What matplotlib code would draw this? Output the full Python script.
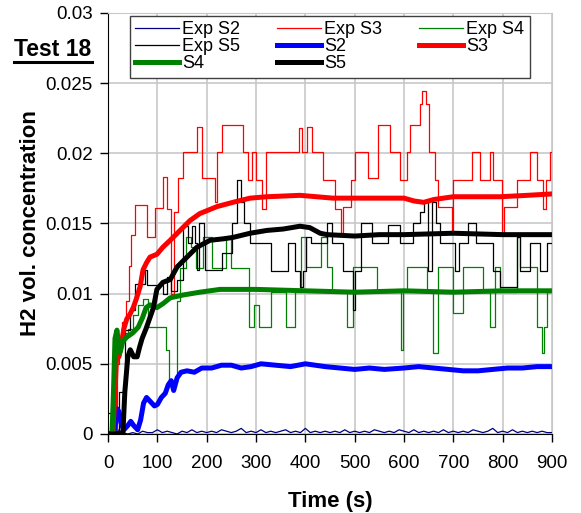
import matplotlib.pyplot as plt
import numpy as np
from matplotlib.lines import Line2D

plt.rcParams['font.family'] = ['Liberation Sans', 'DejaVu Sans']

#%% Experimental data (sensor readings, step-like)
exp_s2_t = np.arange(0, 901, 10)
exp_s2_v = [0.0000, 0.0001, 0.0003, 0.0001, 0.0000, 0.0001, 0.0000, 0.0002, 0.0001, 0.0001,
            0.0003, 0.0001, 0.0002, 0.0001, 0.0000, 0.0002, 0.0001, 0.0003, 0.0001, 0.0002,
            0.0001, 0.0002, 0.0001, 0.0003, 0.0002, 0.0001, 0.0002, 0.0004, 0.0001, 0.0002,
            0.0001, 0.0003, 0.0001, 0.0002, 0.0001, 0.0002, 0.0003, 0.0001, 0.0002, 0.0001,
            0.0004, 0.0001, 0.0002, 0.0001, 0.0002, 0.0001, 0.0002, 0.0001, 0.0003, 0.0001,
            0.0002, 0.0001, 0.0002, 0.0001, 0.0003, 0.0002, 0.0001, 0.0002, 0.0001, 0.0003,
            0.0002, 0.0001, 0.0003, 0.0001, 0.0002, 0.0001, 0.0002, 0.0001, 0.0003, 0.0001,
            0.0002, 0.0001, 0.0002, 0.0001, 0.0003, 0.0002, 0.0001, 0.0002, 0.0004, 0.0001,
            0.0002, 0.0001, 0.0003, 0.0001, 0.0002, 0.0001, 0.0002, 0.0001, 0.0002, 0.0001,
            0.0001]

exp_s3_t = [0, 16, 18, 28, 36, 42, 46, 54, 78, 95, 111, 120, 128, 134, 142, 152, 180, 191, 216, 220,
            232, 274, 284, 292, 300, 312, 320, 388, 394, 403, 414, 436, 460, 472, 476, 492, 500, 527,
            547, 572, 592, 606, 612, 632, 636, 645, 650, 662, 668, 697, 700, 738, 754, 774, 780, 798,
            802, 830, 855, 870, 882, 888, 896, 900]
exp_s3_v = [0.0002, 0.0002, 0.006, 0.008, 0.0095, 0.012, 0.0142, 0.0163, 0.014, 0.0161, 0.0183, 0.016,
            0.0100, 0.0158, 0.0182, 0.0201, 0.0219, 0.0182, 0.0165, 0.0201, 0.0220, 0.0201, 0.0181,
            0.0201, 0.0181, 0.016, 0.0201, 0.0218, 0.0201, 0.0219, 0.0201, 0.0181, 0.016, 0.0143,
            0.0162, 0.0181, 0.0201, 0.0182, 0.022, 0.0201, 0.0181, 0.0201, 0.022, 0.0235, 0.0244,
            0.0235, 0.0201, 0.0181, 0.0162, 0.0143, 0.0181, 0.0201, 0.0181, 0.0201, 0.0181, 0.0143,
            0.0162, 0.0181, 0.0201, 0.0181, 0.016, 0.0181, 0.0201, 0.0201]

exp_s4_t = [0, 14, 16, 22, 30, 40, 50, 60, 70, 80, 110, 118, 124, 140, 146, 158, 168, 178, 192, 210,
            240, 250, 286, 296, 306, 330, 360, 380, 392, 402, 432, 444, 454, 484, 497, 545, 594, 598,
            606, 647, 659, 669, 699, 720, 760, 774, 784, 795, 829, 835, 870, 880, 884, 890, 900]
exp_s4_v = [0.0001, 0.0001, 0.005, 0.0068, 0.0072, 0.0075, 0.0085, 0.0092, 0.0096, 0.0076, 0.0076,
            0.006, 0.0038, 0.0095, 0.0118, 0.014, 0.0133, 0.0118, 0.014, 0.0118, 0.014, 0.0118,
            0.0076, 0.0092, 0.0076, 0.0101, 0.0076, 0.0101, 0.0140, 0.0119, 0.0140, 0.0119, 0.0101,
            0.0076, 0.0119, 0.0101, 0.006, 0.0101, 0.0119, 0.0101, 0.0058, 0.0119, 0.0086, 0.0119,
            0.0101, 0.0076, 0.0119, 0.0101, 0.014, 0.0119, 0.0076, 0.0058, 0.0076, 0.0101, 0.0101]

exp_s5_t = [0, 8, 10, 22, 34, 44, 55, 74, 78, 105, 112, 120, 128, 140, 152, 162, 170, 176, 180, 184,
            194, 197, 232, 252, 262, 270, 276, 288, 330, 364, 380, 389, 395, 402, 412, 444, 454, 476,
            496, 500, 512, 536, 568, 592, 618, 632, 640, 648, 656, 664, 674, 704, 712, 730, 746, 780,
            795, 830, 836, 855, 876, 890, 900]
exp_s5_v = [0.0015, 0.0015, 0.0002, 0.003, 0.0074, 0.0088, 0.0107, 0.0117, 0.0106, 0.0106, 0.0100,
            0.0112, 0.0102, 0.011, 0.0148, 0.0136, 0.0148, 0.0136, 0.0117, 0.015, 0.0136, 0.0117,
            0.0129, 0.015, 0.0181, 0.0165, 0.015, 0.0136, 0.0116, 0.0136, 0.0116, 0.0105, 0.0116,
            0.0140, 0.0136, 0.015, 0.0136, 0.0116, 0.0088, 0.0116, 0.015, 0.0136, 0.0149, 0.0136,
            0.015, 0.0158, 0.0165, 0.0116, 0.0165, 0.015, 0.0136, 0.0116, 0.0136, 0.015, 0.0136,
            0.0116, 0.0105, 0.014, 0.0116, 0.0136, 0.0116, 0.0136, 0.0136]

#%% Simulation results
s2_t = [0, 10, 14, 18, 22, 26, 32, 40, 46, 52, 60, 66, 72, 78, 86, 94, 100, 108, 116, 122, 128, 133,
        140, 148, 160, 175, 190, 210, 230, 250, 270, 290, 310, 340, 370, 400, 420, 440, 470, 500,
        530, 560, 600, 630, 660, 690, 720, 750, 780, 810, 840, 870, 900]
s2_v = [0, 0, 0.0005, 0.0018, 0.0016, 0.0008, 0.0003, 0.0006, 0.0009, 0.0006, 0.0003, 0.001, 0.0022,
        0.0026, 0.0023, 0.002, 0.0021, 0.0026, 0.0029, 0.0035, 0.0038, 0.0031, 0.004, 0.0044, 0.0045,
        0.0044, 0.0047, 0.0047, 0.0049, 0.0049, 0.0047, 0.0048, 0.005, 0.0049, 0.0048, 0.005, 0.0049,
        0.0048, 0.0047, 0.0046, 0.0047, 0.0046, 0.0047, 0.0048, 0.0047, 0.0046, 0.0045, 0.0045,
        0.0046, 0.0047, 0.0047, 0.0048, 0.0048]

s3_t = [0, 10, 14, 18, 22, 26, 32, 38, 44, 51, 58, 65, 71, 78, 85, 99, 111, 126, 146, 166, 186, 221,
        253, 288, 322, 389, 456, 520, 600, 620, 640, 660, 700, 795, 850, 900]
s3_v = [0, 0, 0.003, 0.006, 0.0055, 0.0062, 0.0075, 0.0082, 0.0085, 0.009, 0.0097, 0.0105, 0.0117,
        0.0122, 0.0126, 0.0128, 0.0133, 0.0138, 0.0145, 0.0152, 0.0157, 0.0162, 0.0165, 0.0168,
        0.0169, 0.017, 0.0168, 0.0168, 0.0168, 0.0166, 0.0165, 0.0167, 0.0169, 0.0169, 0.017, 0.0171]

s4_t = [0, 8, 11, 14, 18, 21, 24, 30, 38, 50, 61, 70, 77, 85, 99, 112, 126, 152, 186, 227, 300, 400,
        500, 600, 700, 800, 900]
s4_v = [0, 0, 0.003, 0.0068, 0.0074, 0.0065, 0.0058, 0.0066, 0.0069, 0.0072, 0.0076, 0.0083, 0.009,
        0.0092, 0.009, 0.0093, 0.0097, 0.0099, 0.0101, 0.0103, 0.0103, 0.0102, 0.0101, 0.0102,
        0.0101, 0.0102, 0.0102]

s5_t = [0, 30, 34, 40, 45, 52, 59, 64, 69, 77, 85, 92, 99, 111, 126, 140, 160, 180, 207, 233, 253,
        288, 322, 355, 389, 409, 430, 444, 500, 550, 600, 700, 800, 900]
s5_v = [0, 0, 0.003, 0.0055, 0.006, 0.0055, 0.0055, 0.0062, 0.0068, 0.0075, 0.0083, 0.009, 0.0103,
        0.0108, 0.011, 0.0119, 0.0126, 0.0133, 0.0138, 0.0139, 0.014, 0.0143, 0.0145, 0.0146,
        0.0148, 0.0147, 0.0143, 0.0142, 0.0141, 0.0142, 0.0142, 0.0143, 0.0142, 0.0142]

#%% Plotting
fig = plt.figure(figsize=(5.81, 5.13), dpi=100)
ax = fig.add_axes([0.186, 0.154, 0.764, 0.821])

thin = 0.9
thick = 3.6
h_e2, = ax.plot(exp_s2_t, exp_s2_v, color='#000080', lw=thin, label='Exp S2')
h_e3, = ax.plot(exp_s3_t, exp_s3_v, color='#ff0000', lw=thin, drawstyle='steps-post', label='Exp S3')
h_e4, = ax.plot(exp_s4_t, exp_s4_v, color='#008000', lw=thin, drawstyle='steps-post', label='Exp S4')
h_e5, = ax.plot(exp_s5_t, exp_s5_v, color='black', lw=thin, drawstyle='steps-post', label='Exp S5')
h_s2, = ax.plot(s2_t, s2_v, color='#0000ff', lw=thick, label='S2')
h_s3, = ax.plot(s3_t, s3_v, color='#ff0000', lw=thick, label='S3')
h_s4, = ax.plot(s4_t, s4_v, color='#008000', lw=thick, label='S4')
h_s5, = ax.plot(s5_t, s5_v, color='black', lw=thick, label='S5')

ax.set_xlim(0, 900)
ax.set_ylim(0, 0.03)
ax.set_xticks(np.arange(0, 901, 100))
ax.set_yticks([0, 0.005, 0.01, 0.015, 0.02, 0.025, 0.03])
ax.set_yticklabels(['0', '0.005', '0.01', '0.015', '0.02', '0.025', '0.03'])
ax.grid(True, color='#c8c8c8', lw=1.2)
ax.set_axisbelow(True)
ax.spines['top'].set_color('#c8c8c8')
ax.spines['right'].set_color('#c8c8c8')
ax.tick_params(direction='out', length=6, width=1, labelsize=13.5)
ax.tick_params(axis='x', pad=9)
ax.tick_params(axis='y', pad=5)
ax.set_xlabel('Time (s)', fontsize=16, fontweight='bold', labelpad=14)
ax.set_ylabel('H2 vol. concentration', fontsize=16, fontweight='bold', labelpad=3)

# legend rows: Exp S2, Exp S3, Exp S4 / Exp S5, S2, S3 / S4, S5
handles = [h_e2, h_e5, h_s4, h_e3, h_s2, h_s5, h_e4, h_s3]
leg = ax.legend(handles=handles, labels=[h.get_label() for h in handles], ncol=3,
                loc='upper left', bbox_to_anchor=(0.0495, 0.993), fontsize=13,
                frameon=True, fancybox=False, edgecolor='#404040', framealpha=1,
                labelspacing=0.0, handlelength=2.4, handletextpad=0.2, columnspacing=2.05,
                borderpad=0.3, borderaxespad=0)
leg.get_frame().set_linewidth(1.0)

fig.text(0.024, 0.89, 'Test 18', fontsize=16.5, fontweight='bold', ha='left', va='baseline')
fig.add_artist(Line2D([0.024, 0.159], [0.88, 0.88], color='black', lw=2.2,
                      transform=fig.transFigure))

plt.savefig('out.png', dpi=100)
